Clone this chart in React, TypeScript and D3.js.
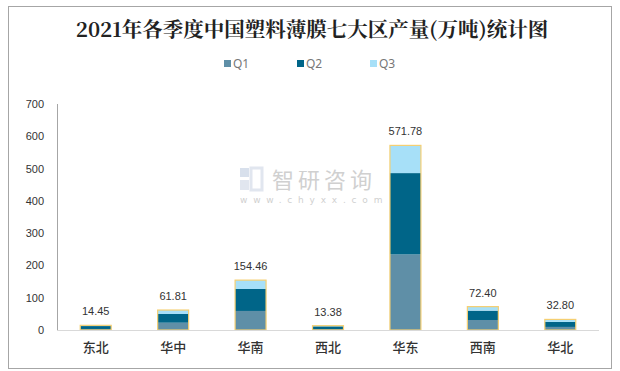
import * as d3 from "d3";
import { useEffect, useRef } from "react";

const regions = ["东北", "华中", "华南", "西北", "华东", "西南", "华北"];
const q1 = [3.2, 22.6, 59.0, 3.0, 234.0, 31.0, 9.5];
const q2 = [9.0, 27.0, 68.0, 8.5, 252.0, 29.0, 15.5];
const q3 = [2.25, 12.21, 27.46, 1.88, 85.78, 12.4, 7.8];
const totals = [14.45, 61.81, 154.46, 13.38, 571.78, 72.4, 32.8];
const seriesNames = ["Q1", "Q2", "Q3"];
const yTicks = [0, 100, 200, 300, 400, 500, 600, 700];

const colors = ["#5f8fa7", "#006588", "#a7e0f8"];

const W = 620;
const H = 371;

const App = () => {
  const ref = useRef<SVGSVGElement>(null);

  useEffect(() => {
    const svg = d3.select(ref.current);
    svg.selectAll("*").remove();

    const margin = { top: 104, left: 57, right: 21, bottom: 41 };

    // frame
    svg.append("rect")
      .attr("x", 8.5).attr("y", 6.5)
      .attr("width", 603).attr("height", 362)
      .attr("fill", "#fff")
      .attr("stroke", "#a6a6a6");

    svg.append("text")
      .attr("x", 312).attr("y", 37)
      .attr("text-anchor", "middle")
      .style("font-family", "'Noto Serif CJK SC', 'Noto Sans CJK SC', serif")
      .style("font-size", "20.5px")
      .style("font-weight", "bold")
      .style("fill", "#222")
      .text("2021年各季度中国塑料薄膜七大区产量(万吨)统计图");

    // legend
    const legendX = [224, 297, 370];
    seriesNames.forEach((s, i) => {
      svg.append("rect")
        .attr("x", legendX[i]).attr("y", 60)
        .attr("width", 7).attr("height", 7)
        .attr("fill", colors[i]);
      svg.append("text")
        .attr("x", legendX[i] + 9).attr("y", 68)
        .style("font-family", "'Noto Sans', sans-serif")
        .style("font-size", "12px")
        .style("fill", "#777")
        .text(s);
    });

    const x = d3.scaleBand()
      .domain(regions)
      .range([margin.left, W - margin.right])
      .paddingInner(0.6)
      .paddingOuter(0.3);

    const y = d3.scaleLinear()
      .domain([0, 700])
      .range([H - margin.bottom, margin.top]);

    // watermark
    const wm = svg.append("g").attr("opacity", 0.55);
    wm.append("rect").attr("x", 240).attr("y", 168).attr("width", 9).attr("height", 9).attr("fill", "#b9c8dd");
    wm.append("rect").attr("x", 251).attr("y", 168).attr("width", 11).attr("height", 22).attr("fill", "none").attr("stroke", "#c9d3e3").attr("stroke-width", 3);
    wm.append("rect").attr("x", 240).attr("y", 180).attr("width", 9).attr("height", 10).attr("fill", "#c9d3e3");
    wm.append("text")
      .attr("x", 272).attr("y", 188)
      .style("font-family", "'Noto Sans CJK SC', sans-serif")
      .style("font-size", "22px")
      .style("fill", "#aaa")
      .style("letter-spacing", "4px")
      .text("智研咨询");
    wm.append("text")
      .attr("x", 240).attr("y", 203)
      .style("font-family", "'DejaVu Sans', sans-serif")
      .style("font-size", "9px")
      .style("fill", "#aaa")
      .style("letter-spacing", "5.8px")
      .text("www.chyxx.com");

    // y axis labels
    svg.append("g").selectAll("text")
      .data(yTicks)
      .enter()
      .append("text")
      .attr("x", 44)
      .attr("y", d => y(d) + 4)
      .attr("text-anchor", "end")
      .style("font-family", "'Liberation Sans', Arial, sans-serif")
      .style("font-size", "11px")
      .style("fill", "#333")
      .text(d => d);

    svg.append("line")
      .attr("x1", margin.left + 0.5).attr("x2", margin.left + 0.5)
      .attr("y1", y(700)).attr("y2", y(0))
      .attr("stroke", "#a6a6a6");

    const stackData = regions.map((r, i) => ({ region: r, Q1: q1[i], Q2: q2[i], Q3: q3[i] }));
    const stack = d3.stack<any>().keys(seriesNames)(stackData);

    stack.forEach((layer, li) => {
      svg.append("g").selectAll("rect")
        .data(layer)
        .enter()
        .append("rect")
        .attr("x", d => x(d.data.region)!)
        .attr("y", d => y(d[1]))
        .attr("width", x.bandwidth())
        .attr("height", d => y(d[0]) - y(d[1]))
        .attr("fill", colors[li]);
    });

    // totals outline
    svg.append("g").selectAll("rect")
      .data(totals)
      .enter()
      .append("rect")
      .attr("x", (d, i) => x(regions[i])!)
      .attr("y", d => y(d))
      .attr("width", x.bandwidth())
      .attr("height", d => y(0) - y(d))
      .attr("fill", "none")
      .attr("stroke", "#f5cf72")
      .attr("stroke-width", 1.2);

    svg.append("g").selectAll("text")
      .data(totals)
      .enter()
      .append("text")
      .attr("x", (d, i) => x(regions[i])! + x.bandwidth() / 2)
      .attr("y", d => y(d) - 10)
      .attr("text-anchor", "middle")
      .style("font-family", "'Liberation Sans', Arial, sans-serif")
      .style("font-size", "11px")
      .style("fill", "#333")
      .text(d => d.toFixed(2));

    svg.append("line")
      .attr("x1", margin.left).attr("x2", W - margin.right)
      .attr("y1", y(0) + 0.5).attr("y2", y(0) + 0.5)
      .attr("stroke", "#d9d9d9");

    svg.append("g").selectAll("text")
      .data(regions)
      .enter()
      .append("text")
      .attr("x", d => x(d)! + x.bandwidth() / 2)
      .attr("y", 352)
      .attr("text-anchor", "middle")
      .style("font-family", "'Noto Sans CJK SC', sans-serif")
      .style("font-size", "13px")
      .style("font-weight", "500")
      .style("fill", "#333")
      .text(d => d);
  }, []);

  return (
    <svg ref={ref} width={W} height={H} style={{ position: "absolute", left: 0, top: 0 }}></svg>
  );
};

export default App;
